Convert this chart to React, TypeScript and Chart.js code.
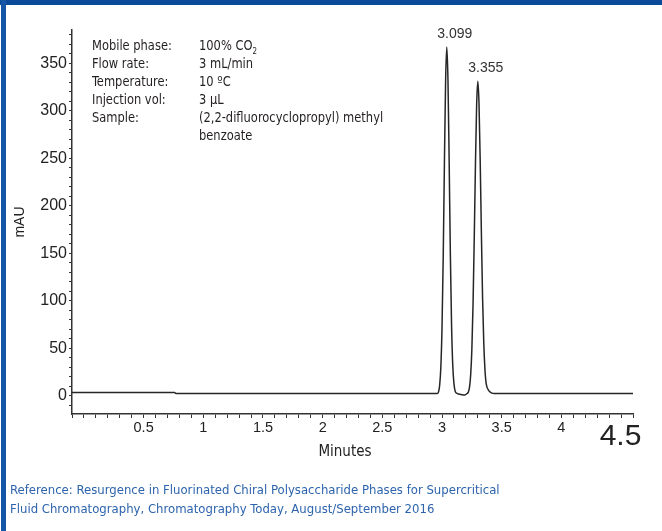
import React, { useEffect, useRef } from 'react';
import { Chart, registerables } from 'chart.js';

Chart.register(...registerables);

// Chromatogram trace (retention time in minutes, absorbance in mAU)
const timeMin = [
  -0.07, 0.79, 0.8, 2.99, 3.0, 3.01, 3.02, 3.03, 3.04, 3.05, 3.06, 3.07, 3.08, 3.09, 3.1,
  3.11, 3.12, 3.13, 3.14, 3.15, 3.17, 3.19, 3.22, 3.24, 3.25, 3.26, 3.27, 3.28, 3.29, 3.3,
  3.31, 3.32, 3.33, 3.34, 3.35, 3.36, 3.37, 3.38, 3.39, 3.4, 3.42, 3.44, 3.47, 3.5, 4.63,
];
const signalMAU = [
  3.5, 3.5, 2.5, 2.5, 4, 11, 30, 72, 146, 244, 331, 367, 331, 245, 148,
  74, 32, 13, 5, 3, 2, 1.5, 1, 2.5, 4, 9, 22, 49, 97, 166,
  243, 306, 331, 307, 246, 170, 102, 55, 27, 13, 6, 3.5, 2.5, 2.5, 2.5,
];

// Peak annotations
const peakTimes = [3.07, 3.33];
const peakHeights = [367, 331];
const peakLabels = ['3.099', '3.355'];

// Tick labels
const xTickLabels = ['0.5', '1', '1.5', '2', '2.5', '3', '3.5', '4'];
const xEndLabel = '4.5';
const yTickLabels = ['0', '50', '100', '150', '200', '250', '300', '350'];

// Method conditions text
const conditionNames = ['Mobile phase:', 'Flow rate:', 'Temperature:', 'Injection vol:', 'Sample:', ''];
const conditionValues = ['100% CO', '3 mL/min', '10 ºC', '3 µL', '(2,2-difluorocyclopropyl) methyl', 'benzoate'];

const referenceLines = [
  'Reference: Resurgence in Fluorinated Chiral Polysaccharide Phases for Supercritical',
  'Fluid Chromatography, Chromatography Today, August/September 2016',
];

const NARROW = "'DejaVu Sans Condensed', 'Liberation Sans Narrow', sans-serif";
const ARIAL = "'Liberation Sans', Arial, sans-serif";

const labelPlugin = {
  id: 'peakLabels',
  afterDatasetsDraw(chart: any) {
    const { ctx, scales } = chart;
    const xs = scales.x;
    const ys = scales.y;
    ctx.save();
    ctx.font = `14px ${ARIAL}`;
    ctx.fillStyle = '#333';
    ctx.textAlign = 'center';
    ctx.textBaseline = 'middle';
    peakTimes.forEach((t, i) => {
      ctx.fillText(peakLabels[i], xs.getPixelForValue(t) + 8, ys.getPixelForValue(peakHeights[i]) - 13);
    });
    // oversized final x tick label
    ctx.font = `30px ${ARIAL}`;
    ctx.fillStyle = '#222';
    ctx.fillText(xEndLabel, xs.getPixelForValue(parseFloat(xEndLabel)) + 3, xs.top + 23);
    ctx.restore();
  },
};

export default function App() {
  const ref = useRef<HTMLCanvasElement>(null);

  useEffect(() => {
    const points = timeMin.map((t, i) => ({ x: t, y: signalMAU[i] }));
    const chart = new Chart(ref.current as HTMLCanvasElement, {
      type: 'line',
      data: {
        datasets: [
          {
            data: points,
            borderColor: '#262626',
            borderWidth: 1.5,
            pointRadius: 0,
            fill: false,
            cubicInterpolationMode: 'monotone',
          },
        ],
      },
      options: {
        animation: false,
        responsive: false,
        devicePixelRatio: 1,
        layout: { padding: { top: 30, right: 29, bottom: 72, left: 0 } },
        plugins: { legend: { display: false }, tooltip: { enabled: false } },
        scales: {
          x: {
            type: 'linear',
            min: -0.07,
            max: 4.63,
            afterFit: (s: any) => {
              s.height = 45;
            },
            border: { color: '#333', width: 1.5 },
            grid: { drawOnChartArea: false, drawTicks: true, tickLength: 4, tickColor: '#333' },
            ticks: {
              stepSize: 0.1,
              includeBounds: false,
              autoSkip: false,
              maxRotation: 0,
              minRotation: 0,
              padding: 1,
              color: '#222',
              font: { family: ARIAL, size: 14.5 },
              callback: (v: any) => {
                const r = Math.round(Number(v) * 10);
                const lab = xTickLabels.find((l) => Math.round(parseFloat(l) * 10) === r);
                return lab === undefined ? '' : lab;
              },
            },
            title: { display: false },
          },
          y: {
            min: -19,
            max: 385,
            afterFit: (s: any) => {
              s.width = 72;
            },
            border: { color: '#333', width: 1.5 },
            grid: { drawOnChartArea: false, drawTicks: true, tickLength: 3, tickColor: '#333' },
            ticks: {
              stepSize: 10,
              includeBounds: false,
              autoSkip: false,
              padding: 2,
              color: '#222',
              font: { family: ARIAL, size: 16 },
              callback: (v: any) => {
                const r = Math.round(Number(v));
                const lab = yTickLabels.find((l) => parseFloat(l) === r);
                return lab === undefined ? '' : lab;
              },
            },
            title: {
              display: true,
              text: 'mAU',
              color: '#222',
              font: { family: ARIAL, size: 14 },
              padding: { top: 11.6, bottom: 0 },
            },
          },
        },
      },
      plugins: [labelPlugin],
    } as any);
    return () => chart.destroy();
  }, []);

  const scaled = { display: 'inline-block', transform: 'scaleX(0.88)', transformOrigin: 'left center' };

  return (
    <div
      style={{
        position: 'absolute',
        left: 0,
        top: 0,
        width: 662,
        height: 531,
        background: '#fff',
        overflow: 'hidden',
      }}
    >
      <canvas ref={ref} width={662} height={531} style={{ position: 'absolute', left: 0, top: 0 }} />
      <div style={{ position: 'absolute', left: 0, top: 0, width: 662, height: 5, background: '#0b4a98' }} />
      <div style={{ position: 'absolute', left: 1, top: 0, width: 5, height: 531, background: '#1557a6' }} />
      <div
        style={{
          position: 'absolute',
          left: 92,
          top: 36,
          fontFamily: NARROW,
          fontSize: 14.5,
          lineHeight: '18px',
          color: '#231f20',
          whiteSpace: 'nowrap',
        }}
      >
        {conditionNames.map((n, i) => (
          <div key={i} style={{ position: 'relative', height: 18 }}>
            <span style={{ ...scaled, position: 'absolute', left: 0 }}>{n}</span>
            <span style={{ ...scaled, position: 'absolute', left: 107 }}>
              {conditionValues[i]}
              {i === 0 ? <sub style={{ fontSize: 9, verticalAlign: '-4px' }}>2</sub> : null}
            </span>
          </div>
        ))}
      </div>
      <div
        style={{
          position: 'absolute',
          left: 0,
          width: 690,
          top: 442,
          textAlign: 'center',
          fontFamily: NARROW,
          fontSize: 15,
          lineHeight: '18px',
          color: '#222',
        }}
      >
        Minutes
      </div>
      <div
        style={{
          position: 'absolute',
          left: 10,
          top: 480,
          fontFamily: NARROW,
          fontSize: 13,
          lineHeight: '19px',
          color: '#2d64ad',
          whiteSpace: 'nowrap',
        }}
      >
        {referenceLines.map((l, i) => (
          <div key={i}>{l}</div>
        ))}
      </div>
    </div>
  );
}
